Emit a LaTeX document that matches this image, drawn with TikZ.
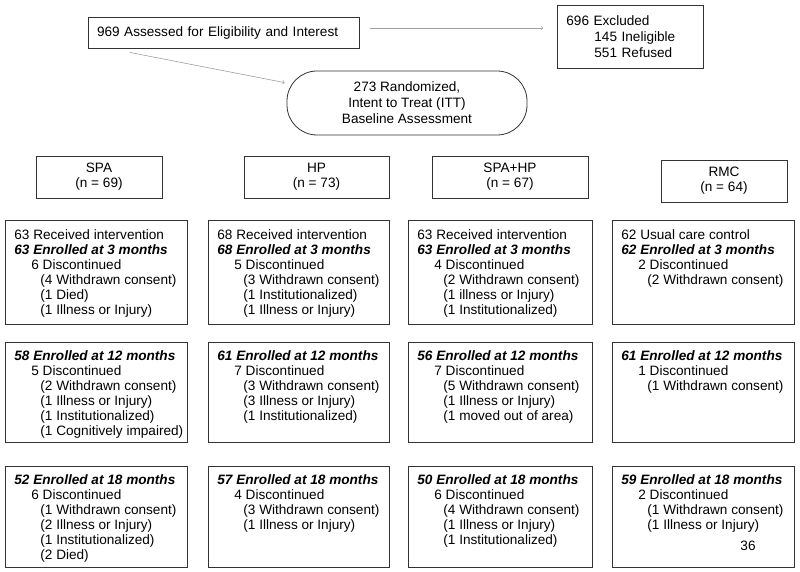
\documentclass[tikz,border=0pt]{standalone}
\usepackage{fontspec}
\setmainfont{Liberation Sans}

\newcommand{\discind}{\hspace*{17pt}}
\newcommand{\reasind}{\hspace*{26pt}}
\newcommand{\exind}{\hspace*{28pt}}
\newcommand{\boxtext}[3]{\begin{minipage}[t][#2][t]{#1}\begin{tabular}[t]{@{}l@{}}#3\end{tabular}\end{minipage}}

\begin{document}
\begin{tikzpicture}[x=1pt, y=-1pt, >=to,
    txt/.style={font=\fontsize{13.6}{15}\selectfont},
    grp/.style={txt, draw=black!80, line width=0.8pt, minimum height=42pt, align=center, inner sep=0pt},
    stage/.style={txt, draw=black!80, line width=0.8pt, anchor=north west, inner xsep=9pt, inner ysep=9pt},
    flow/.style={->, draw=gray!75, line width=0.6pt}]

    \useasboundingbox (0,0) rectangle (800,572);

    % Screening and exclusion
    \node[txt, draw=black!80, line width=0.8pt, minimum width=271pt, minimum height=31pt, text width=253pt, align=left, inner xsep=9pt] (assess) at (223.5,32.5) {969 Assessed for Eligibility and Interest};
    \node[font=\fontsize{13.6}{16}\selectfont, draw=black!80, line width=0.8pt, anchor=north west, minimum width=146pt, minimum height=63pt, text width=128pt, align=left, inner xsep=9pt] (excl) at (557,5) {696 Excluded\\\exind 145 Ineligible\\\exind 551 Refused};

    % Randomized (rounded box)
    \node[font=\fontsize{13.6}{16}\selectfont, draw=black!80, line width=0.8pt, rounded corners=30pt, minimum width=240pt, minimum height=64pt, align=center] (rand) at (407,103) {273 Randomized,\\Intent to Treat (ITT)\\Baseline Assessment};

    % Arrows
    \draw[flow, shorten <=11pt, shorten >=14pt] ([yshift=4.5pt]assess.east) -- ([yshift=4.5pt]assess.east -| excl.west);
    \coordinate (assessout) at ([xshift=42pt, yshift=-4pt]assess.south west);
    \draw[flow, shorten >=2pt] (assessout) -- ([yshift=20pt]rand.west);

    % Arms
    \node[grp, minimum width=126pt] (spa) at (99,177) {SPA\\(n = 69)};
    \node[grp, minimum width=145pt] (hp) at (316.5,177) {HP\\(n = 73)};
    \node[grp, minimum width=156pt] (spahp) at (510,177) {SPA+HP\\(n = 67)};
    \node[grp, minimum width=126pt] (rmc) at (724,181) {RMC\\(n = 64)};

    % 3 months
    \node[stage] (spaThree) at (5,220) {\boxtext{164pt}{86pt}{63 Received intervention\\\textbf{\textit{63 Enrolled at 3 months}}\\\discind 6 Discontinued\\\reasind(4 Withdrawn consent)\\\reasind(1 Died)\\\reasind(1 Illness or Injury)}};
    \node[stage] (hpThree) at (208,220) {\boxtext{163pt}{86pt}{68 Received intervention\\\textbf{\textit{68 Enrolled at 3 months}}\\\discind 5 Discontinued\\\reasind(3 Withdrawn consent)\\\reasind(1 Institutionalized)\\\reasind(1 Illness or Injury)}};
    \node[stage] (spahpThree) at (408,220) {\boxtext{166pt}{86pt}{63 Received intervention\\\textbf{\textit{63 Enrolled at 3 months}}\\\discind 4 Discontinued\\\reasind(2 Withdrawn consent)\\\reasind(1 illness or Injury)\\\reasind(1 Institutionalized)}};
    \node[stage] (rmcThree) at (612,220) {\boxtext{164pt}{86pt}{62 Usual care control\\\textbf{\textit{62 Enrolled at 3 months}}\\\discind 2 Discontinued\\\reasind(2 Withdrawn consent)}};

    % 12 months
    \node[stage, inner ysep=8pt] (spaTwelve) at (5,342) {\boxtext{164pt}{84pt}{\textbf{\textit{58 Enrolled at 12 months}}\\\discind 5 Discontinued\\\reasind(2 Withdrawn consent)\\\reasind(1 Illness or Injury)\\\reasind(1 Institutionalized)\\\reasind(1 Cognitively impaired)}};
    \node[stage, inner ysep=8pt] (hpTwelve) at (208,342) {\boxtext{163pt}{84pt}{\textbf{\textit{61 Enrolled at 12 months}}\\\discind 7 Discontinued\\\reasind(3 Withdrawn consent)\\\reasind(3 Illness or Injury)\\\reasind(1 Institutionalized)}};
    \node[stage, inner ysep=8pt] (spahpTwelve) at (408,342) {\boxtext{166pt}{84pt}{\textbf{\textit{56 Enrolled at 12 months}}\\\discind 7 Discontinued\\\reasind(5 Withdrawn consent)\\\reasind(1 Illness or Injury)\\\reasind(1 moved out of area)}};
    \node[stage, inner ysep=8pt] (rmcTwelve) at (612,342) {\boxtext{164pt}{84pt}{\textbf{\textit{61 Enrolled at 12 months}}\\\discind 1 Discontinued\\\reasind(1 Withdrawn consent)}};

    % 18 months
    \node[stage, inner ysep=8pt] (spaEighteen) at (5,466) {\boxtext{164pt}{85pt}{\textbf{\textit{52 Enrolled at 18 months}}\\\discind 6 Discontinued\\\reasind(1 Withdrawn consent)\\\reasind(2 Illness or Injury)\\\reasind(1 Institutionalized)\\\reasind(2 Died)}};
    \node[stage, inner ysep=8pt] (hpEighteen) at (208,466) {\boxtext{163pt}{85pt}{\textbf{\textit{57 Enrolled at 18 months}}\\\discind 4 Discontinued\\\reasind(3 Withdrawn consent)\\\reasind(1 Illness or Injury)}};
    \node[stage, inner ysep=8pt] (spahpEighteen) at (408,466) {\boxtext{166pt}{85pt}{\textbf{\textit{50 Enrolled at 18 months}}\\\discind 6 Discontinued\\\reasind(4 Withdrawn consent)\\\reasind(1 Illness or Injury)\\\reasind(1 Institutionalized)}};
    \node[stage, inner ysep=8pt] (rmcEighteen) at (612,466) {\boxtext{164pt}{85pt}{\textbf{\textit{59 Enrolled at 18 months}}\\\discind 2 Discontinued\\\reasind(1 Withdrawn consent)\\\reasind(1 Illness or Injury)}};

    % Page number
    \node[txt] (pagenum) at (748,546) {36};

\end{tikzpicture}
\end{document}
